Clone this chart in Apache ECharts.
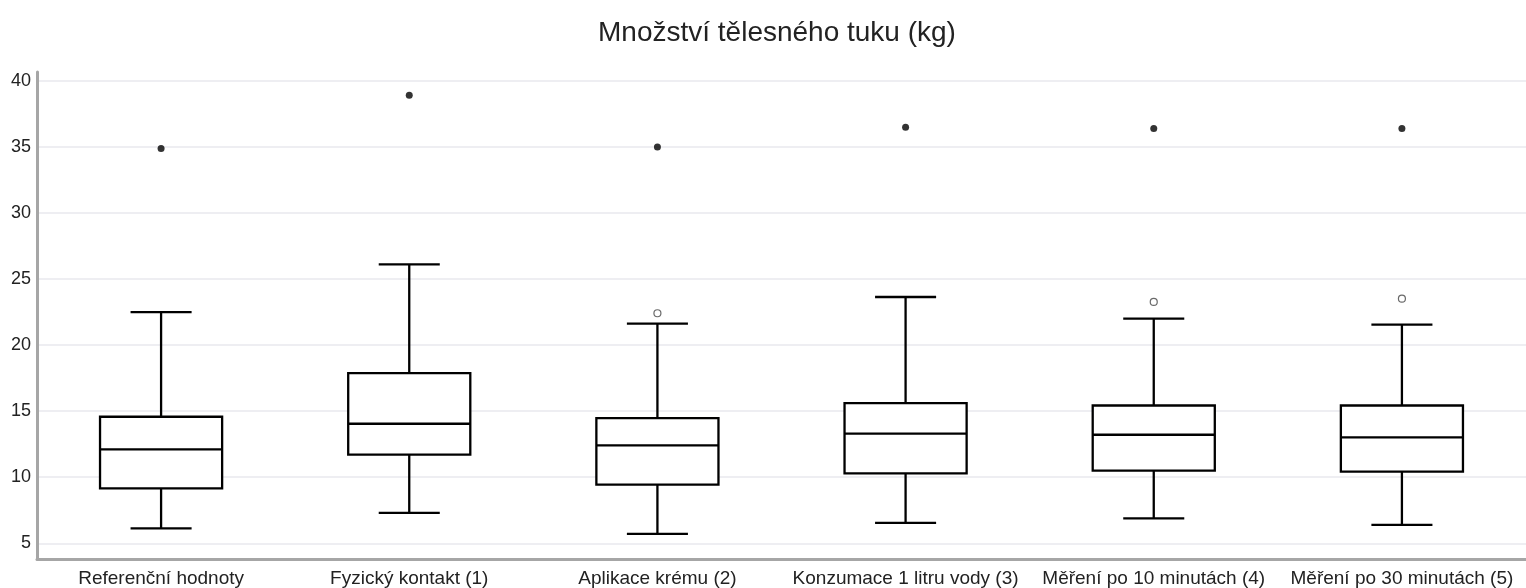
<!DOCTYPE html>
<html>
<head>
<meta charset="utf-8">
<script src="https://cdn.jsdelivr.net/npm/echarts@6/dist/echarts.min.js"></script>
<style>
  html, body { margin: 0; padding: 0; background: #fff; }
  #chart { width: 1526px; height: 588px; }
</style>
</head>
<body>
<div id="chart"></div>
<script>
const categories = ['Referenční hodnoty', 'Fyzický kontakt (1)', 'Aplikace krému (2)',
    'Konzumace 1 litru vody (3)', 'Měření po 10 minutách (4)', 'Měření po 30 minutách (5)'];
const whiskerLow = [6.13, 7.30, 5.71, 6.54, 6.89, 6.39];
const q1 = [9.15, 11.70, 9.43, 10.29, 10.49, 10.42];
const median = [12.10, 14.04, 12.40, 13.29, 13.21, 13.01];
const q3 = [14.57, 17.87, 14.47, 15.60, 15.42, 15.42];
const whiskerHigh = [22.48, 26.10, 21.62, 23.63, 21.99, 21.54];
// tmave body nahore a svetle kolecka tesne nad fousem
const farOutliers = [[0, 34.87], [1, 38.89], [2, 34.98], [3, 36.47], [4, 36.37], [5, 36.37]];
const nearOutliers = [[2, 22.40], [4, 23.26], [5, 23.50]];

const boxData = categories.map((c, i) => [i, whiskerLow[i], q1[i], median[i], q3[i], whiskerHigh[i]]);

const renderBox = (params, api) => {
    const idx = api.value(0);
    const band = api.size([1, 0])[0];
    const half = band * 0.246;
    const capHalf = half / 2;
    const low = api.coord([idx, api.value(1)]);
    const pq1 = api.coord([idx, api.value(2)]);
    const pmed = api.coord([idx, api.value(3)]);
    const pq3 = api.coord([idx, api.value(4)]);
    const high = api.coord([idx, api.value(5)]);
    const x = low[0];
    const style = { stroke: '#000', lineWidth: 2.3, fill: null };
    const line = (x1, y1, x2, y2) => ({ type: 'line', shape: { x1, y1, x2, y2 }, style });
    return {
        type: 'group',
        children: [
            line(x, high[1], x, pq3[1]),
            line(x - capHalf, high[1], x + capHalf, high[1]),
            line(x, pq1[1], x, low[1]),
            line(x - capHalf, low[1], x + capHalf, low[1]),
            { type: 'rect', shape: { x: x - half, y: pq3[1], width: half * 2, height: pq1[1] - pq3[1] },
              style: { stroke: '#000', lineWidth: 2.3, fill: '#fff' } },
            line(x - half, pmed[1], x + half, pmed[1])
        ]
    };
};

const chart = echarts.init(document.getElementById('chart'));
chart.setOption({
    animation: false,
    title: {
        text: 'Množství tělesného tuku (kg)',
        left: 593,
        top: 14,
        textStyle: { fontFamily: 'Liberation Sans', fontSize: 28, fontWeight: 'normal', color: '#222' }
    },
    grid: { left: 37, right: -6, top: 72, bottom: 28.5 },
    xAxis: {
        type: 'category',
        data: categories,
        boundaryGap: true,
        axisLine: { lineStyle: { color: '#a6a6a6', width: 3 } },
        axisTick: { show: false },
        axisLabel: { interval: 0, margin: 10, fontFamily: 'Liberation Sans', fontSize: 19, color: '#222' },
        splitLine: { show: false }
    },
    yAxis: {
        type: 'value',
        min: 3.81,
        max: 40.65,
        splitNumber: 7,
        axisLine: { show: true, lineStyle: { color: '#a6a6a6', width: 3 } },
        axisTick: { show: false },
        axisLabel: { showMinLabel: false, showMaxLabel: false, margin: 6,
            fontFamily: 'Liberation Sans', fontSize: 18, color: '#222' },
        splitLine: { show: true, showMinLine: false, showMaxLine: false,
            lineStyle: { color: '#e8e8ee', width: 1.5 } }
    },
    series: [
        {
            name: 'box',
            type: 'custom',
            renderItem: renderBox,
            encode: { x: 0, y: [1, 2, 3, 4, 5] },
            data: boxData,
            z: 2
        },
        {
            name: 'far',
            type: 'scatter',
            data: farOutliers,
            symbol: 'circle',
            symbolSize: 7,
            itemStyle: { color: '#000' },
            z: 3
        },
        {
            name: 'near',
            type: 'scatter',
            data: nearOutliers,
            symbol: 'circle',
            symbolSize: 7,
            itemStyle: { color: '#fff', borderColor: '#444', borderWidth: 1.2 },
            z: 3
        }
    ]
});
</script>
</body>
</html>
